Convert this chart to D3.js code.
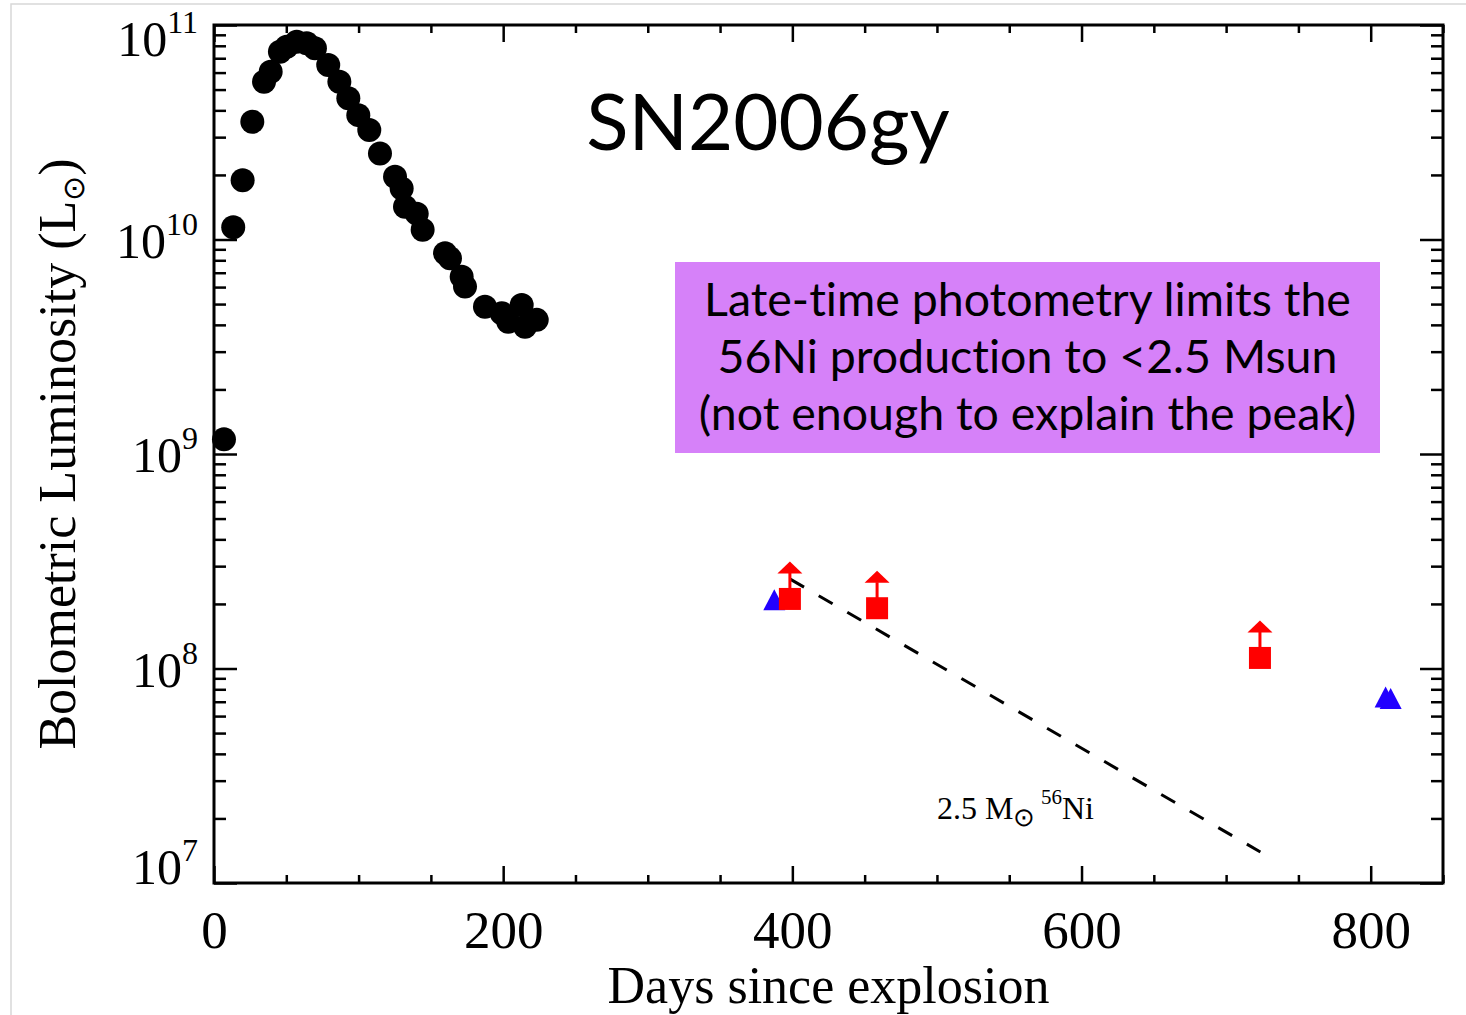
<!DOCTYPE html>
<html>
<head>
<meta charset="utf-8">
<script src="https://cdn.jsdelivr.net/npm/d3@7"></script>
<style>
  body { margin: 0; background: #fff; }
  svg { display: block; }
  text { font-variant-ligatures: none; }
</style>
</head>
<body>
<svg id="chart" width="1466" height="1015"></svg>
<script>
// Bolometric light curve of SN2006gy (days since explosion, L in solar units)
const peakDays = [6.9, 13.3, 19.8, 26.5, 34.6, 39.2, 45.6, 50.3, 57.2, 64.1, 69.8, 79.0,
  86.7, 92.9, 99.8, 107.4, 114.8, 125.2, 129.8, 132.1, 140.2, 144.3, 159.8, 163.2,
  171.3, 173.6, 187.4, 199.0, 203.5, 212.8, 215.1, 223.2];
const peakLum = [1.17e9, 1.14e10, 1.89e10, 3.54e10, 5.44e10, 6.06e10, 7.51e10, 7.92e10,
  8.36e10, 8.22e10, 7.79e10, 6.51e10, 5.44e10, 4.55e10, 3.80e10, 3.24e10, 2.52e10,
  1.96e10, 1.73e10, 1.42e10, 1.32e10, 1.11e10, 8.62e9, 8.17e9, 6.71e9, 6.03e9,
  4.86e9, 4.53e9, 4.14e9, 4.95e9, 3.92e9, 4.22e9];

// Late-time lower limits (red squares with arrows)
const limitDays = [398.3, 458.6, 723.4];
const limitLum = [2.11e8, 1.91e8, 1.12e8];

// Late-time detections (blue triangles)
const detDays = [387.5, 810.3, 813.8];
const detLum = [2.09e8, 7.37e7, 7.25e7];

// 56Co decay track for 2.5 Msun of 56Ni
const niDays = [398.5, 723.7];
const niLum = [2.61e8, 1.395e7];

// Axes
const xDomain = [0, 850];
const yDomain = [1e7, 1e11];
const xMajor = [0, 200, 400, 600, 800];
const xTickLabels = ["0", "200", "400", "600", "800"];
const xMinor = [50, 100, 150, 250, 300, 350, 450, 500, 550, 650, 700, 750, 850];
const yMajor = [1e7, 1e8, 1e9, 1e10, 1e11];
const yTickExp = ["7", "8", "9", "10", "11"];
const yMinor = [];
[1e7, 1e8, 1e9, 1e10].forEach(dec => { for (let k = 2; k <= 9; k++) yMinor.push(k * dec); });

const title = "SN2006gy";
const boxLines = [
  "Late-time photometry limits the",
  "56Ni production to <2.5 Msun",
  "(not enough to explain the peak)"
];

const serif = "'Liberation Serif','Times New Roman',Times,serif";
const sans = "Lato,'Open Sans','Noto Sans',sans-serif";

const svg = d3.select("#chart");
const m = { left: 214, right: 1443, top: 25, bottom: 883 };

const x = d3.scaleLinear().domain(xDomain).range([m.left, m.right]);
const y = d3.scaleLog().domain(yDomain).range([m.bottom, m.top]);

// faint page frame
svg.append("path")
  .attr("d", "M11,1015V4H1466")
  .attr("fill", "none").attr("stroke", "#d8d8d8").attr("stroke-width", 1.5);

function tidy(g, w) {
  g.select(".domain").remove();
  g.selectAll(".tick line").attr("stroke", "#000").attr("stroke-width", w);
}

// bottom axis
const gb = svg.append("g").attr("transform", `translate(0,${m.bottom})`)
  .call(d3.axisBottom(x).tickValues(xMajor).tickSizeInner(-17).tickSizeOuter(0)
    .tickFormat((d, i) => xTickLabels[i]));
tidy(gb, 2.5);
gb.selectAll(".tick text").attr("y", 65).attr("dy", 0)
  .attr("font-family", serif).attr("font-size", 53).attr("fill", "#000");
const gbm = svg.append("g").attr("transform", `translate(0,${m.bottom})`)
  .call(d3.axisBottom(x).tickValues(xMinor).tickSizeInner(-8).tickSizeOuter(0).tickFormat(""));
tidy(gbm, 2.5);

// top axis
const gt = svg.append("g").attr("transform", `translate(0,${m.top})`)
  .call(d3.axisTop(x).tickValues(xMajor).tickSizeInner(-17).tickSizeOuter(0).tickFormat(""));
tidy(gt, 2.5);
const gtm = svg.append("g").attr("transform", `translate(0,${m.top})`)
  .call(d3.axisTop(x).tickValues(xMinor).tickSizeInner(-8).tickSizeOuter(0).tickFormat(""));
tidy(gtm, 2.5);

// left axis with power-of-ten labels
const gl = svg.append("g").attr("transform", `translate(${m.left},0)`)
  .call(d3.axisLeft(y).tickValues(yMajor).tickSizeInner(-23).tickSizeOuter(0)
    .tickPadding(16).tickFormat(() => ""));
tidy(gl, 2.5);
gl.selectAll(".tick text").each(function (d, i) {
  const t = d3.select(this);
  const shift = i === 0 ? 0 : (i === yMajor.length - 1 ? 30 : 17.5);
  t.text(null).attr("dy", 0).attr("y", shift)
    .attr("font-family", serif).attr("font-size", 50).attr("fill", "#000");
  t.append("tspan").text("10");
  t.append("tspan").attr("dy", -23).attr("font-size", 32).text(yTickExp[i]);
});
const glm = svg.append("g").attr("transform", `translate(${m.left},0)`)
  .call(d3.axisLeft(y).tickValues(yMinor).tickSizeInner(-12).tickSizeOuter(0).tickFormat(""));
tidy(glm, 2.5);

// right axis
const gr = svg.append("g").attr("transform", `translate(${m.right},0)`)
  .call(d3.axisRight(y).tickValues(yMajor).tickSizeInner(-23).tickSizeOuter(0).tickFormat(""));
tidy(gr, 2.5);
const grm = svg.append("g").attr("transform", `translate(${m.right},0)`)
  .call(d3.axisRight(y).tickValues(yMinor).tickSizeInner(-12).tickSizeOuter(0).tickFormat(""));
tidy(grm, 2.5);

// plot frame
svg.append("rect")
  .attr("x", m.left).attr("y", m.top)
  .attr("width", m.right - m.left).attr("height", m.bottom - m.top)
  .attr("fill", "none").attr("stroke", "#000").attr("stroke-width", 3);

// axis titles
svg.append("text")
  .attr("x", (m.left + m.right) / 2).attr("y", 1003)
  .attr("text-anchor", "middle").attr("font-family", serif).attr("font-size", 52)
  .text("Days since explosion");

const yt = svg.append("text")
  .attr("transform", `translate(75,${(m.top + m.bottom) / 2}) rotate(-90)`)
  .attr("text-anchor", "middle").attr("font-family", serif).attr("font-size", 52);
yt.append("tspan").text("Bolometric Luminosity (L");
yt.append("tspan").attr("font-size", 30).attr("dy", 9).text("\u2299");
yt.append("tspan").attr("dy", -9).text(")");

// title
svg.append("text")
  .attr("x", 768).attr("y", 150).attr("text-anchor", "middle")
  .attr("font-family", sans).attr("font-size", 78).attr("fill", "#000")
  .text(title);

// annotation box
svg.append("rect")
  .attr("x", 675).attr("y", 262).attr("width", 705).attr("height", 191)
  .attr("fill", "#d681f9");
svg.append("g").selectAll("text").data(boxLines).join("text")
  .attr("x", 1027.5).attr("y", (d, i) => 316 + i * 57)
  .attr("text-anchor", "middle").attr("font-family", sans).attr("font-size", 46.5)
  .attr("fill", "#000")
  .text(d => d);

// 56Ni decay line
const niPts = niDays.map((d, i) => [d, niLum[i]]);
svg.append("path")
  .datum(niPts)
  .attr("d", d3.line().x(d => x(d[0])).y(d => y(d[1])))
  .attr("fill", "none").attr("stroke", "#000").attr("stroke-width", 3)
  .attr("stroke-dasharray", "16 17");

const nl = svg.append("text")
  .attr("x", 937).attr("y", 819)
  .attr("font-family", serif).attr("font-size", 32).attr("fill", "#000");
nl.append("tspan").text("2.5 M");
nl.append("tspan").attr("font-size", 26).attr("dy", 7).text("\u2299");
nl.append("tspan").attr("dy", -7).attr("font-size", 22).text(" ");
nl.append("tspan").attr("font-size", 21).attr("dy", -15).text("56");
nl.append("tspan").attr("dy", 15).text("Ni");

// light curve points
svg.append("g").selectAll("circle")
  .data(peakDays.map((d, i) => [d, peakLum[i]]))
  .join("circle")
  .attr("cx", d => x(d[0])).attr("cy", d => y(d[1])).attr("r", 12)
  .attr("fill", "#000");

// blue triangles
svg.append("g").selectAll("path")
  .data(detDays.map((d, i) => [d, detLum[i]]))
  .join("path")
  .attr("d", d => {
    const cx = x(d[0]), cy = y(d[1]);
    return `M${cx - 11},${cy + 10.5}L${cx + 11},${cy + 10.5}L${cx},${cy - 10.5}Z`;
  })
  .attr("fill", "#2200ff");

// red lower limits
const lim = svg.append("g").selectAll("g")
  .data(limitDays.map((d, i) => [d, limitLum[i]]))
  .join("g")
  .attr("transform", d => `translate(${x(d[0])},${y(d[1])})`);
lim.append("line")
  .attr("x1", 0).attr("x2", 0).attr("y1", -10).attr("y2", -26)
  .attr("stroke", "#ff0000").attr("stroke-width", 3);
lim.append("path")
  .attr("d", "M-12.5,-25.5L12.5,-25.5L0,-37.5Z")
  .attr("fill", "#ff0000");
lim.append("rect")
  .attr("x", -11).attr("y", -11).attr("width", 22).attr("height", 22)
  .attr("fill", "#ff0000");
</script>
</body>
</html>
